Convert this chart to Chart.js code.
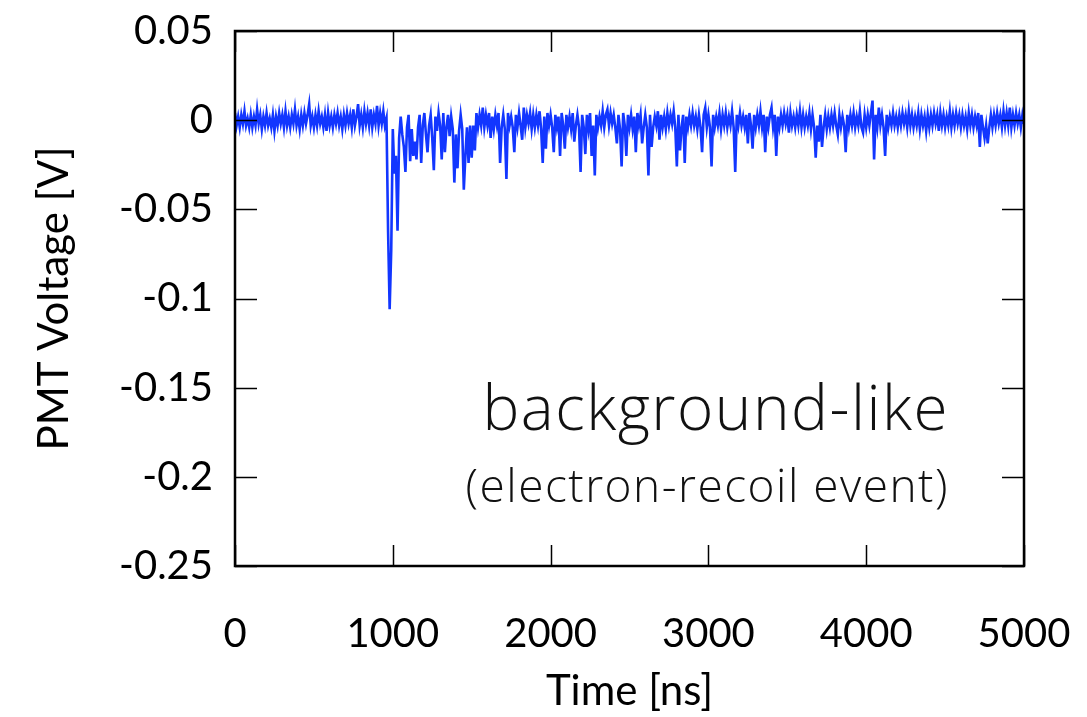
<!DOCTYPE html>
<html>
<head>
<meta charset="utf-8">
<script src="https://cdn.jsdelivr.net/npm/chart.js@4.4.1/dist/chart.umd.min.js"></script>
<style>
  html, body { margin: 0; padding: 0; background: #fff; }
  #wrap { width: 1087px; height: 717px; }
</style>
</head>
<body>
<div id="wrap"><canvas id="pmtChart" width="1087" height="717"></canvas></div>
<script>
/* ---------- data ---------- */
// one sample every 10 ns, 0 .. 5000 ns
const SAMPLE_STEP_NS = 10;

// PMT voltage in mV, 10 samples per row (= 100 ns per row)
const voltageMV = [
  4,-3,2,-4,3,-2,5,-3,1,-4,          // 0
  3,-4,2,-3,6,-2,3,-5,2,-3,          // 100
  4,-3,1,-4,3,-6,2,-3,4,-2,          // 200
  3,-4,5,-3,2,-4,3,-2,6,-3,          // 300
  2,-5,3,-3,4,-2,3,9,-3,2,           // 400
  -4,3,-3,5,-2,2,-4,3,-6,4,          // 500
  -3,2,-4,3,-2,4,-3,2,-5,3,          // 600
  -3,4,-2,3,-4,6,-3,2,9,-3,          // 700
  3,-4,5,-2,4,-3,6,-4,3,-2,          // 800
  8,-3,4,-2,5,-3,1,-62,-106,-73,     // 900  (pulse)
  -5,-30,-20,-62,-10,2,-8,-15,-29,-4,// 1000
  3,-23,-5,-20,-12,-22,-4,3,-24,-3,  // 1100
  4,-8,-18,-3,3,-10,-28,2,-6,4,      // 1200
  -3,-22,4,-18,-4,3,-9,2,-5,-35,     // 1300
  -8,-27,-6,3,-5,-39,-20,-4,-24,-3,  // 1400
  -21,-3,-17,4,-4,3,-3,7,-4,3,       // 1500
  -3,4,-10,2,-5,3,-3,4,-24,-4,       // 1600
  3,-5,-33,4,-3,2,-4,-18,3,-4,       // 1700
  4,-3,-11,7,-4,3,-2,4,-5,3,         // 1800
  -4,3,-3,5,-5,-24,2,-16,4,-3,       // 1900
  3,-4,-18,3,-4,2,-20,4,-3,-16,      // 2000
  3,-4,2,-5,4,-12,-3,3,-4,-29,       // 2100
  3,-4,-19,3,-5,4,-20,-3,-31,3,      // 2200
  -4,2,-3,5,-4,3,6,-3,4,-2,          // 2300
  3,-4,-13,3,-5,-26,4,-3,-20,3,      // 2400
  -4,3,-5,2,-18,4,-3,3,-13,-4,       // 2500
  3,-4,-31,3,-15,-4,2,-3,5,-11,      // 2600
  3,-4,2,-5,4,-3,3,-2,5,-4,          // 2700
  -26,3,-17,-4,3,-24,2,-4,3,-3,      // 2800
  4,-3,2,-5,3,-4,-18,3,7,-4,         // 2900
  3,-4,-26,3,-4,2,-3,4,-5,3,         // 3000
  -3,4,-4,2,-3,5,-4,-29,3,-3,        // 3100
  4,-3,2,-4,3,-13,4,-3,-16,3,        // 3200
  -4,3,-3,5,-4,3,-18,2,-4,3,         // 3300
  7,-4,3,-20,2,-4,3,-3,4,-2,         // 3400
  3,-7,4,-3,2,-4,3,-3,5,-4,          // 3500
  3,-4,2,-3,4,-5,3,-4,-21,-3,        // 3600
  -12,3,-15,-4,3,-5,2,-4,3,-3,       // 3700
  4,-3,-8,3,-4,2,-3,-18,3,-4,        // 3800
  3,-3,4,-4,2,-3,5,-4,-7,3,          // 3900
  -4,3,-3,4,11,-22,3,-4,7,-3,        // 4000
  3,-4,-20,3,-4,2,-3,4,-3,2,         // 4100
  -4,3,-3,4,-2,3,-4,5,-3,3,          // 4200
  -4,2,-3,4,-5,3,-3,2,-6,3,          // 4300
  -4,3,-3,4,-2,3,-6,4,-3,3,          // 4400
  -4,2,-3,5,-4,3,-3,4,-2,3,          // 4500
  -4,3,-3,2,-5,4,-3,3,-4,2,          // 4600
  -3,4,-15,3,-4,-10,-3,-13,-4,3,     // 4700
  -4,3,-3,4,-2,3,-4,5,-3,4,          // 4800
  -3,7,-4,3,-3,4,-2,3,-4,3,          // 4900
  -2                                 // 5000
];

const xTicks = [0, 1000, 2000, 3000, 4000, 5000];
const yTicks = [0.05, 0, -0.05, -0.1, -0.15, -0.2, -0.25];

const labelMain = 'background-like';
const labelSub = '(electron-recoil event)';

/* ---------- chart ---------- */
const tickFont = { family: 'Lato, "DejaVu Sans", sans-serif', size: 40 };
const titleFont = { family: 'Lato, "DejaVu Sans", sans-serif', size: 42 };

// gnuplot-style ticks pointing into the plot on all four sides
const innerTicks = {
  id: 'innerTicks',
  afterDatasetsDraw(chart) {
    const { ctx, chartArea: a, scales: { x, y } } = chart;
    ctx.save();
    ctx.strokeStyle = '#000';
    ctx.lineWidth = 1.5;
    ctx.beginPath();
    xTicks.forEach(t => {
      const px = Math.round(x.getPixelForValue(t)) + 0.5;
      ctx.moveTo(px, a.bottom); ctx.lineTo(px, a.bottom - 21);
      ctx.moveTo(px, a.top);    ctx.lineTo(px, a.top + 21);
    });
    yTicks.forEach(t => {
      const py = Math.round(y.getPixelForValue(t)) + 0.5;
      ctx.moveTo(a.left, py);  ctx.lineTo(a.left + 22, py);
      ctx.moveTo(a.right, py); ctx.lineTo(a.right - 22, py);
    });
    ctx.stroke();
    ctx.lineWidth = 2.5;
    ctx.strokeRect(a.left, a.top, a.right - a.left, a.bottom - a.top);
    ctx.restore();
  }
};

const eventLabel = {
  id: 'eventLabel',
  afterDraw(chart) {
    const { ctx, chartArea: a } = chart;
    ctx.save();
    ctx.fillStyle = '#111';
    ctx.textAlign = 'right';
    ctx.textBaseline = 'alphabetic';
    ctx.letterSpacing = '1.5px';
    ctx.font = '300 62px "Open Sans", Lato, sans-serif';
    ctx.fillText(labelMain, a.right - 75, a.top + 399);
    ctx.font = '300 46px "Open Sans", Lato, sans-serif';
    ctx.fillText(labelSub, a.right - 75, a.top + 471);
    ctx.restore();
  }
};

const points = voltageMV.map((mv, i) => ({ x: i * SAMPLE_STEP_NS, y: mv / 1000 }));

new Chart(document.getElementById('pmtChart'), {
  type: 'line',
  data: {
    datasets: [{
      data: points,
      borderColor: '#1236ff',
      borderWidth: 2.6,
      pointRadius: 0,
      tension: 0,
      fill: false
    }]
  },
  options: {
    responsive: false,
    animation: false,
    layout: { padding: { left: 0, right: 63, top: 31, bottom: 0 } },
    plugins: { legend: { display: false }, tooltip: { enabled: false } },
    scales: {
      x: {
        type: 'linear',
        min: 0,
        max: 5000,
        afterBuildTicks: s => { s.ticks = xTicks.map(v => ({ value: v })); },
        afterFit: s => { s.height = 151; s.paddingLeft = 0; s.paddingRight = 0; },
        grid: { display: false, drawTicks: false },
        border: { display: false },
        ticks: {
          color: '#000',
          font: tickFont,
          padding: 44,
          maxRotation: 0,
          callback: v => String(v)
        },
        title: {
          display: true,
          text: 'Time [ns]',
          color: '#000',
          font: titleFont,
          padding: { top: 0, bottom: 0 }
        }
      },
      y: {
        min: -0.25,
        max: 0.05,
        afterBuildTicks: s => { s.ticks = yTicks.map(v => ({ value: v })); },
        afterFit: s => { s.width = 235; s.paddingTop = 0; s.paddingBottom = 0; },
        grid: { display: false, drawTicks: false },
        border: { display: false },
        ticks: {
          color: '#000',
          font: tickFont,
          padding: 22,
          callback: v => String(+v.toFixed(2))
        },
        title: {
          display: true,
          text: 'PMT Voltage [V]',
          color: '#000',
          font: titleFont,
          padding: { top: 29, bottom: 0 }
        }
      }
    }
  },
  plugins: [innerTicks, eventLabel]
});
</script>
</body>
</html>
